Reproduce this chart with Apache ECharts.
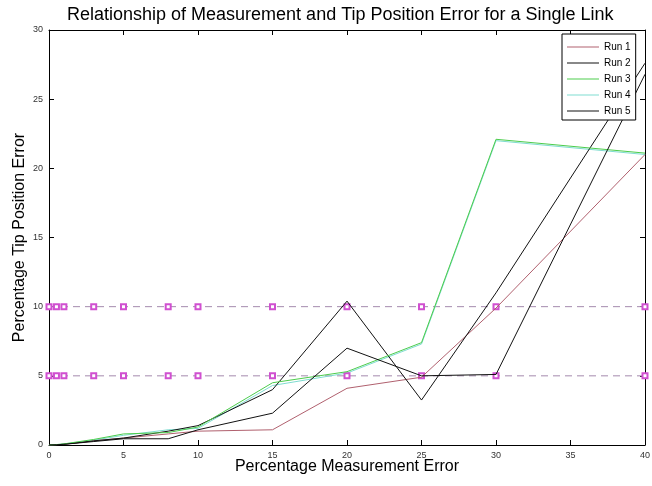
<!DOCTYPE html>
<html>
<head>
<meta charset="utf-8">
<script src="https://cdn.jsdelivr.net/npm/echarts@6/dist/echarts.min.js"></script>
<style>
  html, body { margin: 0; padding: 0; background: #fff; }
  #chart { width: 652px; height: 486px; }
</style>
</head>
<body>
<div id="chart"></div>
<script>
  // measurement error (%) at which each run was sampled
  let xValues = [0, 0.5, 1, 3, 5, 8, 10, 15, 20, 25, 30, 40]
  // tip position error (%) for each run
  let run1 = [0, 0.02, 0.05, 0.3, 0.5, 0.8, 1.0, 1.1, 4.1, 4.9, 9.9, 21.0]
  let run2 = [0, 0.02, 0.05, 0.3, 0.5, 1.0, 1.4, 4.0, 10.4, 3.25, 11.0, 27.6]
  let run3 = [0, 0.03, 0.08, 0.4, 0.8, 0.9, 1.3, 4.5, 5.3, 7.4, 22.1, 21.1]
  let run4 = [0, 0.03, 0.07, 0.35, 0.7, 1.1, 1.2, 4.3, 5.2, 7.3, 22.0, 21.0]
  let run5 = [0, 0.02, 0.05, 0.25, 0.45, 0.45, 1.1, 2.3, 7.0, 5.0, 5.1, 26.8]
  let runNames = ['Run 1', 'Run 2', 'Run 3', 'Run 4', 'Run 5']
  let runColors = ['#b0606e', '#111111', '#4ccc4c', '#7fdcd0', '#111111']
  // horizontal reference levels
  let thresholds = [5, 10]
  let xTicks = {min: 0, max: 40, interval: 5}
  let yTicks = {min: 0, max: 30, interval: 5}

  let chart = echarts.init(document.getElementById('chart'))
  let runs = [run1, run2, run3, run4, run5]
  let series = []
  thresholds.forEach(t => {
    series.push({
      type: 'line',
      data: xValues.map(x => [x, t]),
      symbol: 'emptyRect',
      symbolSize: 5,
      showSymbol: true,
      lineStyle: {color: '#a48aae', width: 1, type: [7, 5]},
      itemStyle: {color: '#d050d0', borderColor: '#d050d0', borderWidth: 1},
      z: 2,
      silent: true
    })
  })
  runs.forEach((r, k) => {
    series.push({
      name: runNames[k],
      type: 'line',
      data: xValues.map((x, i) => [x, r[i]]),
      symbol: 'none',
      color: runColors[k],
      lineStyle: {color: runColors[k], width: 1},
      z: k === 3 ? 2 : 3
    })
  })

  let axisFont = {fontFamily: 'Liberation Sans', fontSize: 9, color: '#333'}
  let option = {
    animation: false,
    backgroundColor: '#fff',
    title: {
      text: 'Relationship of Measurement and Tip Position Error for a Single Link',
      left: 62,
      top: 1,
      textStyle: {fontFamily: 'Liberation Sans', fontSize: 18, fontWeight: 'normal', color: '#000'}
    },
    legend: {
      data: runNames,
      orient: 'vertical',
      left: 562,
      top: 34,
      icon: 'rect',
      itemWidth: 32,
      itemHeight: 1,
      itemGap: 6,
      padding: [8, 5, 4, 5],
      backgroundColor: '#fff',
      borderColor: '#000',
      borderWidth: 1,
      borderRadius: 0,
      textStyle: {fontFamily: 'Liberation Sans', fontSize: 10, color: '#000'}
    },
    grid: {left: 49, right: 7, top: 30, bottom: 41, outerBoundsMode: 'none'},
    xAxis: [
      {
        type: 'value',
        ...xTicks,
        name: 'Percentage Measurement Error',
        nameLocation: 'middle',
        nameMoveOverlap: false,
        nameGap: 14,
        nameTextStyle: {fontFamily: 'Liberation Sans', fontSize: 16, color: '#000'},
        axisLine: {show: true, lineStyle: {color: '#000', width: 1}},
        axisTick: {show: true, inside: true, length: 5, lineStyle: {color: '#000'}},
        axisLabel: {...axisFont, margin: 6},
        splitLine: {show: false}
      },
      {
        type: 'value',
        position: 'top',
        ...xTicks,
        axisLine: {show: true, onZero: false, lineStyle: {color: '#000', width: 1}},
        axisTick: {show: true, inside: true, length: 5, lineStyle: {color: '#000'}},
        axisLabel: {show: false},
        splitLine: {show: false}
      }
    ],
    yAxis: [
      {
        type: 'value',
        ...yTicks,
        name: 'Percentage Tip Position Error',
        nameLocation: 'middle',
        nameMoveOverlap: false,
        nameGap: 21,
        nameTextStyle: {fontFamily: 'Liberation Sans', fontSize: 16, color: '#000'},
        axisLine: {show: true, lineStyle: {color: '#000', width: 1}},
        axisTick: {show: true, inside: true, length: 5, lineStyle: {color: '#000'}},
        axisLabel: {...axisFont, margin: 6},
        splitLine: {show: false}
      },
      {
        type: 'value',
        position: 'right',
        ...yTicks,
        axisLine: {show: true, onZero: false, lineStyle: {color: '#000', width: 1}},
        axisTick: {show: true, inside: true, length: 5, lineStyle: {color: '#000'}},
        axisLabel: {show: false},
        splitLine: {show: false}
      }
    ],
    series: series
  }
  chart.setOption(option)
</script>
</body>
</html>
